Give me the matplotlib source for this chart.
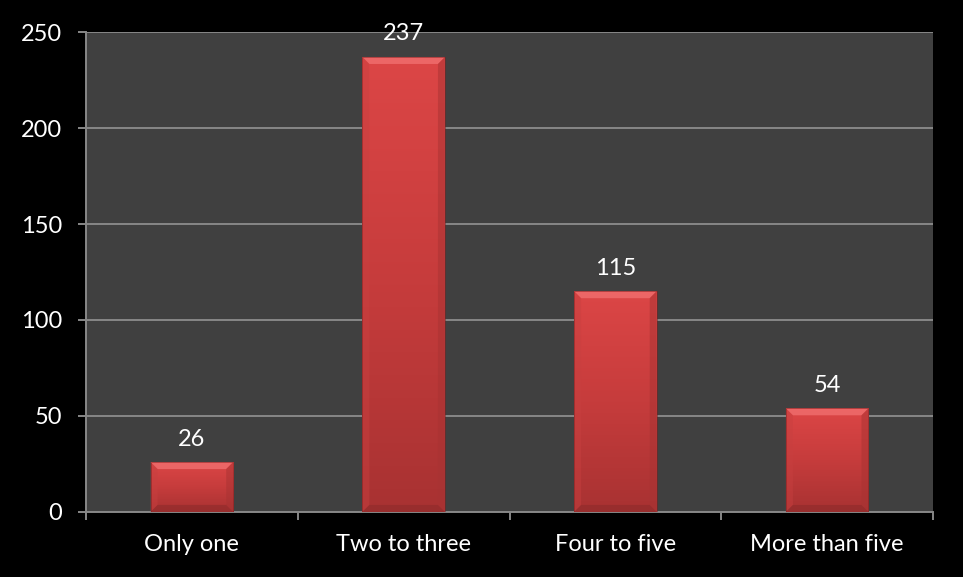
import numpy as np
import matplotlib.pyplot as plt
from matplotlib.patches import Polygon
from matplotlib.colors import LinearSegmentedColormap

categories = ["Only one", "Two to three", "Four to five", "More than five"]
counts = [26, 237, 115, 54]

plt.rcParams["font.family"] = ["Lato", "DejaVu Sans"]

fig = plt.figure(figsize=(9.63, 5.77), dpi=100, facecolor="black")
ax = fig.add_axes([0.0893, 0.1127, 0.8796, 0.8318])
ax.set_facecolor("#404040")

x = np.arange(len(categories))
bar_w = 0.39
ax.set_xlim(-0.5, len(categories) - 0.5)
ax.set_ylim(0, 250)

# pixel -> data scale, used to give the bevels a fixed on-screen depth
bb = ax.get_window_extent()
px_x = (ax.get_xlim()[1] - ax.get_xlim()[0]) / bb.width
px_y = (ax.get_ylim()[1] - ax.get_ylim()[0]) / bb.height

grad = LinearSegmentedColormap.from_list("bar", ["#a83232", "#c63c3c", "#dc4646"])
bars = ax.bar(x, counts, width=bar_w, color="#d24242", edgecolor="none", zorder=2)
for b, v in zip(bars, counts):
    x0, x1 = b.get_x(), b.get_x() + b.get_width()
    img = ax.imshow(np.linspace(0, 1, 256).reshape(-1, 1), cmap=grad,
                    extent=[x0, x1, 0, v], origin="lower", aspect="auto", zorder=3)
    img.set_clip_path(b)
    dx, dy = 7 * px_x, 7 * px_y
    dy = min(dy, v / 2)
    # top bevel (light), sides and bottom (shaded)
    bevels = [
        ([(x0, v), (x1, v), (x1 - dx, v - dy), (x0 + dx, v - dy)], "#ee6a6a", 0.9),
        ([(x0, v), (x0 + dx, v - dy), (x0 + dx, dy), (x0, 0)], "#c84040", 0.45),
        ([(x1, v), (x1 - dx, v - dy), (x1 - dx, dy), (x1, 0)], "#a83333", 0.5),
        ([(x0, 0), (x1, 0), (x1 - dx, dy), (x0 + dx, dy)], "#8e2a2a", 0.6),
    ]
    for pts, c, a in bevels:
        ax.add_patch(Polygon(pts, closed=True, facecolor=c, edgecolor="none",
                             alpha=a, zorder=4))
    ax.plot([x0, x1, x1, x0, x0], [0, 0, v, v, 0], color="#7a2020",
            lw=0.5, alpha=0.7, zorder=5)
    ax.annotate(str(v), (b.get_x() + b.get_width() / 2, v), xytext=(0, 9),
                textcoords="offset points", ha="center", va="bottom",
                color="white", fontsize=17, zorder=6)

ax.set_yticks(np.arange(0, 251, 50))
ax.yaxis.grid(True, color="#878787", lw=1.4, zorder=1)
ax.set_axisbelow(True)
ax.tick_params(axis="y", colors="#878787", labelcolor="white", labelsize=17,
               length=6, width=1.4, pad=11)

ax.set_xticks(x)
ax.set_xticklabels(categories)
ax.set_xticks(np.arange(-0.5, len(categories)), minor=True)
ax.tick_params(axis="x", which="major", length=0, labelcolor="white",
               labelsize=17, pad=16)
ax.tick_params(axis="x", which="minor", length=6, width=1.4, colors="#878787")

for side in ("top", "right"):
    ax.spines[side].set_visible(False)
for side in ("left", "bottom"):
    ax.spines[side].set_color("#878787")
    ax.spines[side].set_linewidth(1.4)

fig.savefig("out.png", dpi=100, facecolor="black")
